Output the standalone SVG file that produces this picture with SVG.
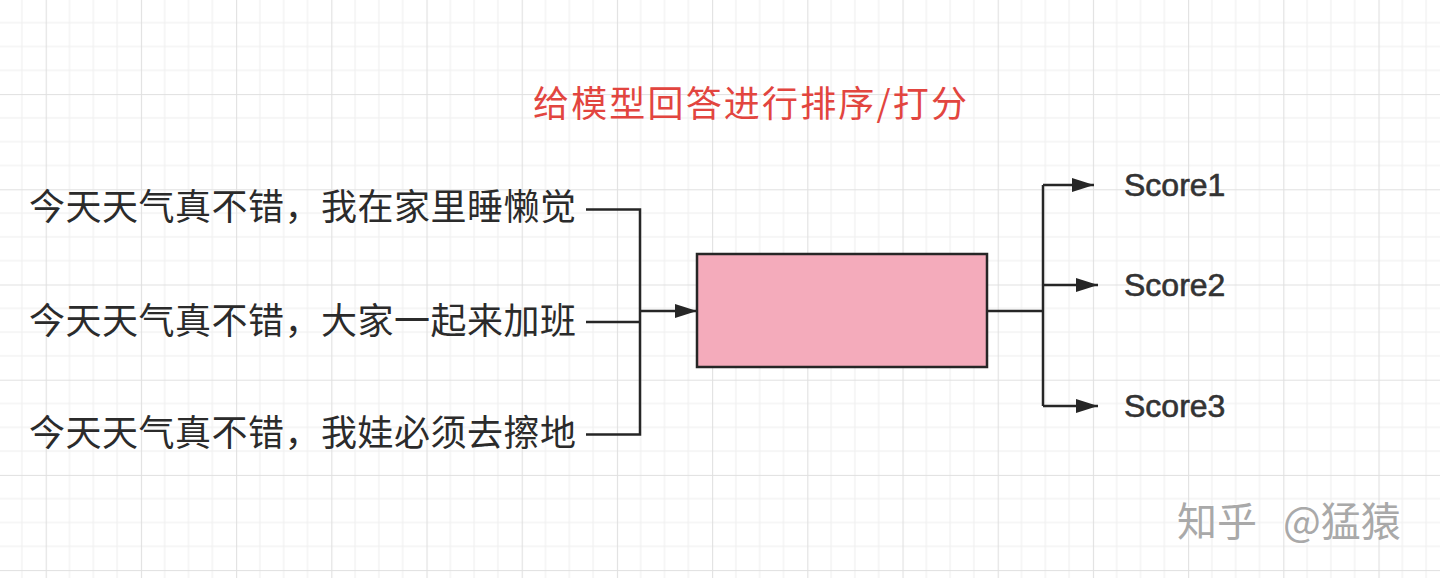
<svg xmlns="http://www.w3.org/2000/svg" width="1440" height="578" viewBox="0 0 1440 578">
  <style>
    .cn { font-family: "Noto Sans CJK SC", "Noto Sans", sans-serif; }
    .item { font-size: 36px; fill: #2b2b2b; }
    .score { font-family: "Liberation Sans", Arial, sans-serif; font-size: 32px; fill: #333333; stroke: #333333; stroke-width: 0.6; }
    .title { font-size: 36px; fill: #e2453f; }
    .wm { font-size: 40px; }
    .wire { fill: none; stroke: #262626; stroke-width: 2.5; }
    .minor { stroke: #eeeeee; stroke-width: 1; }
    .major { stroke: #e0e0e0; stroke-width: 1.2; }
  </style>
  <defs>
    <pattern id="grid" patternUnits="userSpaceOnUse" x="45.7" y="94.1" width="95.2" height="95.2">
      <line class="minor" x1="23.8" y1="0" x2="23.8" y2="95.2"/>
      <line class="minor" x1="47.6" y1="0" x2="47.6" y2="95.2"/>
      <line class="minor" x1="71.4" y1="0" x2="71.4" y2="95.2"/>
      <line class="minor" x1="0" y1="23.8" x2="95.2" y2="23.8"/>
      <line class="minor" x1="0" y1="47.6" x2="95.2" y2="47.6"/>
      <line class="minor" x1="0" y1="71.4" x2="95.2" y2="71.4"/>
      <line class="major" x1="0.5" y1="0" x2="0.5" y2="95.2"/>
      <line class="major" x1="0" y1="0.5" x2="95.2" y2="0.5"/>
    </pattern>
    <marker id="arrow" markerUnits="userSpaceOnUse" markerWidth="24" markerHeight="16" refX="22" refY="7" orient="auto">
      <path d="M0,0 L22,7 L0,14 z" fill="#262626"/>
    </marker>
  </defs>

  <rect x="0" y="0" width="1440" height="578" fill="#ffffff"/>
  <rect x="0" y="0" width="1440" height="578" fill="url(#grid)"/>

  <g id="title">
    <text class="cn title" x="533" y="117" textLength="434" lengthAdjust="spacing">给模型回答进行排序/打分</text>
  </g>

  <g id="input1">
    <text class="cn item" x="29" y="220" textLength="547" lengthAdjust="spacing">今天天气真不错，我在家里睡懒觉</text>
  </g>
  <g id="input2">
    <text class="cn item" x="29" y="334" textLength="547" lengthAdjust="spacing">今天天气真不错，大家一起来加班</text>
  </g>
  <g id="input3">
    <text class="cn item" x="29" y="446" textLength="547" lengthAdjust="spacing">今天天气真不错，我娃必须去擦地</text>
  </g>

  <g id="model">
    <rect x="697" y="254" width="290" height="113" fill="#f4abbb" stroke="#262626" stroke-width="2.5"/>
  </g>

  <g id="score1">
    <text class="score" x="1124" y="196">Score1</text>
  </g>
  <g id="score2">
    <text class="score" x="1124" y="296">Score2</text>
  </g>
  <g id="score3">
    <text class="score" x="1124" y="417">Score3</text>
  </g>

  <g id="connectors">
    <path class="wire" d="M586,209.5 H640 V434.5 H586"/>
    <path class="wire" d="M586,322 H640"/>
    <path class="wire" d="M640,311 H697" marker-end="url(#arrow)"/>
    <path class="wire" d="M987,311 H1043"/>
    <path class="wire" d="M1043,185 V406"/>
    <path class="wire" d="M1043,185 H1094" marker-end="url(#arrow)"/>
    <path class="wire" d="M1043,285 H1098" marker-end="url(#arrow)"/>
    <path class="wire" d="M1043,406 H1098" marker-end="url(#arrow)"/>
  </g>

  <g id="watermark">
    <g transform="translate(-1.5,-1.5)" fill="#ffffff" opacity="0.9">
      <text class="cn wm" x="1177" y="536">知乎</text>
      <text class="cn wm" x="1283" y="536">@猛猿</text>
    </g>
    <g fill="#a9a9a9">
      <text class="cn wm" x="1177" y="536">知乎</text>
      <text class="cn wm" x="1283" y="536">@猛猿</text>
    </g>
  </g>
</svg>
